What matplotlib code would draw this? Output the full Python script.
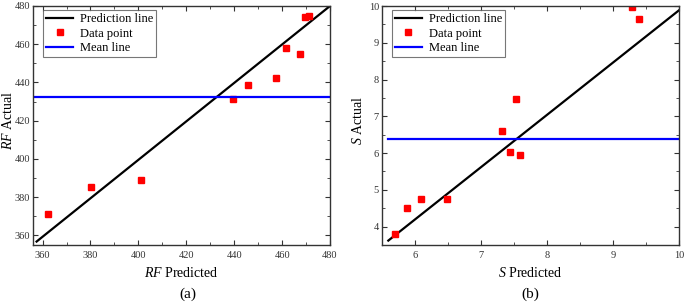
import matplotlib
matplotlib.use("Agg")
import matplotlib.pyplot as plt
from matplotlib.ticker import MultipleLocator

plt.rcParams['font.family'] = ['Liberation Serif']
plt.rcParams['mathtext.fontset'] = 'custom'
plt.rcParams['mathtext.it'] = 'Liberation Serif:italic'
plt.rcParams['mathtext.rm'] = 'Liberation Serif'

# Panel (a): RF
rf_pred = [362.4, 380.2, 401.0, 439.6, 445.6, 457.5, 461.6, 467.5, 469.4, 471.4]
rf_act = [371.2, 385.2, 388.8, 431.3, 438.8, 442.6, 457.8, 454.8, 474.2, 474.9]
rf_line_x = [357.5, 480]
rf_line_y = [356.8, 480]
rf_mean = 432.5
rf_mean_x = [356, 480]

# Panel (b): S
s_pred = [5.70, 5.89, 6.09, 6.49, 7.32, 7.44, 7.53, 7.59, 9.28, 9.39]
s_act = [3.80, 4.51, 4.74, 4.75, 6.60, 6.04, 7.47, 5.96, 9.96, 9.66]
s_line_x = [5.6, 10.0]
s_line_y = [3.62, 9.89]
s_mean = 6.38
s_mean_x = [5.6, 10.0]

fig = plt.figure(figsize=(6.85, 3.06), dpi=100)
ax1 = fig.add_axes([33/685, 1-245/306, (330-33)/685, (245-6)/306])
ax2 = fig.add_axes([381.7/685, 1-245/306, (679.3-381.7)/685, (245-6)/306])

def style(ax):
    for s in ax.spines.values():
        s.set_color('#333333')
        s.set_linewidth(1.0)
    ax.tick_params(which='both', direction='in', top=True, right=True,
                   labelsize=7.5, colors='#333333', labelcolor='#333333')
    ax.tick_params(axis='y', pad=2)
    ax.tick_params(axis='x', pad=4.5)
    ax.tick_params(which='major', length=3.5)
    ax.tick_params(which='minor', length=2)

for ax, px, py, lx, ly, m, mx, name, lblx in [
        (ax1, rf_pred, rf_act, rf_line_x, rf_line_y, rf_mean, rf_mean_x, 'RF', -0.062),
        (ax2, s_pred, s_act, s_line_x, s_line_y, s_mean, s_mean_x, 'S', -0.056)]:
    ax.plot(lx, ly, color='black', lw=1.6, label='Prediction line')
    ax.plot(px, py, 's', color='#ff0000', ms=4, lw=0, label='Data point')
    ax.plot(mx, [m, m], color='#0000ff', lw=1.6, label='Mean line')
    ax.set_xlabel(r'$' + name + r'$ Predicted', fontsize=10, labelpad=4)
    ax.set_ylabel(r'$' + name + r'$ Actual', fontsize=10)
    ax.yaxis.set_label_coords(lblx, 0.52)
    style(ax)
    leg = ax.legend(loc='upper left', bbox_to_anchor=(10/297, 1-4/239),
                    borderaxespad=0, fontsize=9, frameon=True, fancybox=False,
                    borderpad=0.25, labelspacing=0.2, handlelength=2.15,
                    handletextpad=0.55)
    leg.get_frame().set_edgecolor('#555555')
    leg.get_frame().set_linewidth(0.8)

ax1.set_xlim(356, 480)
ax1.set_ylim(355, 480)
ax1.xaxis.set_major_locator(MultipleLocator(20))
ax1.xaxis.set_minor_locator(MultipleLocator(10))
ax1.yaxis.set_major_locator(MultipleLocator(20))
ax1.yaxis.set_minor_locator(MultipleLocator(10))

ax2.set_xlim(5.5, 10)
ax2.set_ylim(3.5, 10)
ax2.xaxis.set_major_locator(MultipleLocator(1))
ax2.xaxis.set_minor_locator(MultipleLocator(0.5))
ax2.yaxis.set_major_locator(MultipleLocator(1))
ax2.yaxis.set_minor_locator(MultipleLocator(0.5))

fig.text(188/685, 1-294/306, '(a)', ha='center', va='center', fontsize=11)
fig.text(530/685, 1-294/306, '(b)', ha='center', va='center', fontsize=11)

fig.savefig('out.png', dpi=100)
